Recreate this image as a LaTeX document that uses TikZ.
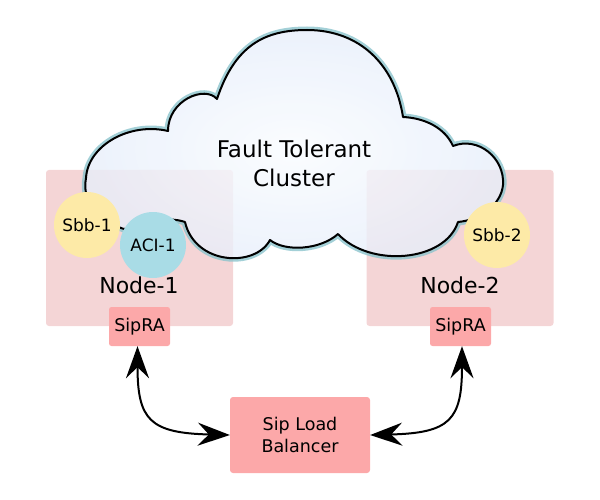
\documentclass[tikz,border=0pt]{standalone}
\usepackage{fontspec}
\setmainfont{DejaVu Sans}
\usetikzlibrary{arrows.meta}
\definecolor{nodebg}{HTML}{F4D5D6}
\definecolor{sipra}{HTML}{FCA8A9}
\definecolor{sbbfill}{HTML}{FDEAA7}
\definecolor{acifill}{HTML}{A9DCE6}
\definecolor{halo}{HTML}{8CC4CD}
\definecolor{cloudin}{HTML}{F9FCFF}
\definecolor{cloudout}{HTML}{E7EEFA}
\newcommand{\cloudshape}{(124,229) .. controls (95,220) and (82,200) .. (86,178)
 .. controls (88,145) and (130,122) .. (168,131)
 .. controls (168,100) and (205,85) .. (217,99)
 .. controls (235,45) and (265,30) .. (307,30)
 .. controls (360,30) and (395,65) .. (403,117)
 .. controls (425,118) and (445,128) .. (453,146)
 .. controls (478,136) and (505,158) .. (503,185)
 .. controls (501,205) and (480,220) .. (458,222)
 .. controls (445,262) and (370,268) .. (338,234)
 .. controls (320,250) and (285,252) .. (270,240)
 .. controls (255,268) and (195,265) .. (185,222)
 .. controls (165,215) and (140,225) .. (124,229) -- cycle}
\begin{document}
\begin{tikzpicture}[x=1pt,y=-1pt,
  nodebox/.style={fill=nodebg, rounded corners=3pt, minimum width=187pt, minimum height=156pt, inner sep=0pt},
  rabox/.style={fill=sipra, rounded corners=2.5pt, minimum width=61pt, minimum height=39pt, inner sep=0pt, font=\fontsize{17.5}{21}\selectfont},
  lbbox/.style={fill=sipra, rounded corners=3pt, minimum width=140pt, minimum height=76pt, inner sep=0pt, align=center, font=\fontsize{17.5}{22}\selectfont},
  circ/.style={circle, minimum size=66pt, inner sep=0pt, font=\fontsize{17}{20}\selectfont},
  bigtxt/.style={font=\fontsize{22}{29}\selectfont, align=center, inner sep=0pt},
  link/.style={line width=2pt, {Stealth[length=32pt,width=23pt,inset=11pt]}-{Stealth[length=32pt,width=23pt,inset=11pt]}}
]
\useasboundingbox (0,0) rectangle (600,500);
\node[nodebox] (n1) at (139.5,248) {};
\node[nodebox] (n2) at (460,248) {};
\begin{scope}[transparency group, opacity=0.8]
  \draw[halo, line width=7pt, line join=round] \cloudshape;
  \shade[inner color=cloudin, outer color=cloudout] \cloudshape;
\end{scope}
\draw[line width=2pt, line join=round] \cloudshape;
\node[bigtxt, font=\fontsize{23}{29}\selectfont] (ftc) at (294,163) {Fault Tolerant\\Cluster};
\node[circ, fill=sbbfill] (sbb1) at (87,225) {Sbb-1};
\node[circ, fill=acifill] (aci1) at (153,245) {ACI-1};
\node[circ, fill=sbbfill] (sbb2) at (497,235) {Sbb-2};
\node[bigtxt, anchor=base] (l1) at (139,293) {Node-1};
\node[bigtxt, anchor=base] (l2) at (460,293) {Node-2};
\node[rabox] (ra1) at (139.5,326.5) {SipRA};
\node[rabox] (ra2) at (460.5,326.5) {SipRA};
\node[lbbox] (lb) at (300,435) {Sip Load\\Balancer};
\draw[link] ([xshift=-2pt]ra1.south) .. controls (137.5,420) and (150,433) .. (lb.west);
\draw[link] (lb.east) .. controls (450,433) and (462,420) .. ([xshift=1.5pt]ra2.south);
\end{tikzpicture}
\end{document}
